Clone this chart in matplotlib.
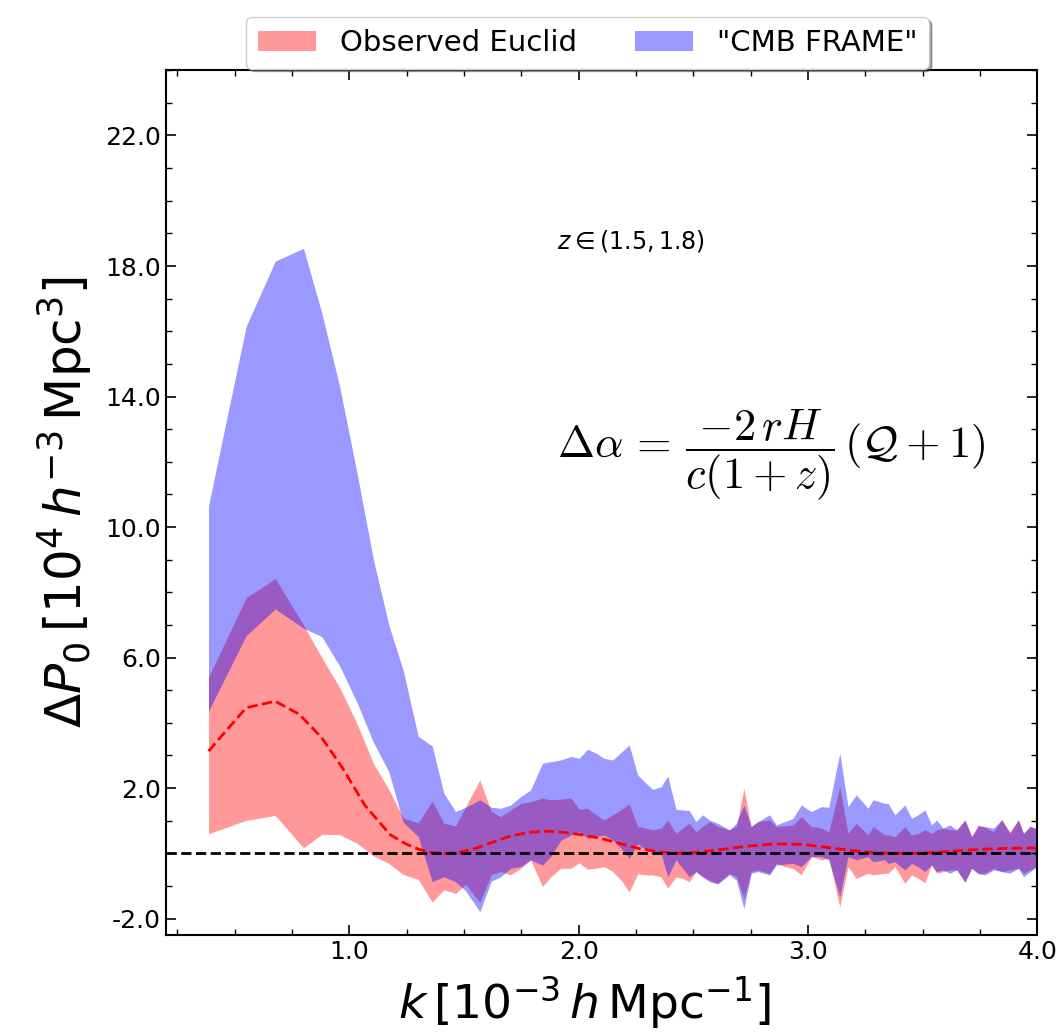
import matplotlib.pyplot as plt
from matplotlib.ticker import MultipleLocator, FormatStrFormatter

# wavenumber bins [1e-3 h/Mpc]
k = [0.386, 0.550, 0.677, 0.800, 0.880, 0.958, 1.035, 1.105, 1.172, 1.235, 1.300, 1.361,
     1.412, 1.463, 1.507, 1.569, 1.619, 1.660, 1.703, 1.747, 1.790, 1.842, 1.878,
     1.922, 1.966, 2.002, 2.038, 2.075, 2.111, 2.148, 2.184, 2.220, 2.257, 2.293,
     2.322, 2.359, 2.388, 2.424, 2.453, 2.482, 2.511, 2.540, 2.570, 2.606,
     2.657, 2.687, 2.720, 2.752, 2.781, 2.832, 2.861, 2.898, 2.934, 2.970, 3.014,
     3.058, 3.090, 3.138, 3.174, 3.210, 3.261, 3.283, 3.334,
     3.349, 3.378, 3.422, 3.451, 3.480, 3.509, 3.538, 3.560, 3.589, 3.618, 3.648,
     3.684, 3.713, 3.742, 3.771, 3.808, 3.844, 3.880, 3.917, 3.939, 3.968, 3.997, 4.030]

# "CMB FRAME" band
cmb_hi = [10.65, 16.15, 18.15, 18.54, 16.56, 14.30, 11.60, 9.00, 7.00, 5.60, 3.59, 3.29,
          1.84, 1.28, 1.41, 1.64, 1.41, 1.38, 1.48, 1.74, 1.94, 2.76, 2.81,
          2.86, 2.97, 2.91, 3.19, 3.07, 2.91, 2.86, 3.09, 3.32, 2.40, 2.15,
          1.96, 2.04, 2.37, 1.35, 1.33, 1.31, 0.97, 1.18, 1.02, 0.92,
          0.72, 0.92, 1.48, 0.82, 0.97, 1.18, 0.87, 0.97, 1.07, 1.48, 1.28,
          1.43, 1.41, 3.07, 1.43, 1.79, 1.38, 1.64, 1.53,
          1.53, 1.18, 1.48, 1.07, 1.18, 1.33, 0.87, 1.02, 0.77, 0.87, 0.72,
          1.02, 0.51, 0.84, 0.82, 0.77, 1.02, 0.61, 1.02, 0.61, 0.82, 0.77, 0.70]
cmb_lo = [4.36, 6.67, 7.49, 6.90, 6.64, 5.74, 4.60, 3.40, 2.50, 0.95, 0.52, -0.87,
          -0.72, -0.87, -1.15, -1.79, -0.85, -0.72, -0.46, -0.41, -0.20, -0.36, -0.10,
          0.40, 0.56, 0.66, 0.46, 0.51, 0.56, 0.41, 0.15, -0.15, 0.29, 0.10,
          0.05, 0.00, -0.72, -0.20, -0.46, -0.72, -0.56, -0.72, -0.87, -0.94,
          -0.66, -0.82, -1.69, -0.61, -0.56, -0.66, -0.36, -0.33, -0.31, -0.41, -0.10,
          -0.10, -0.20, -1.33, -0.10, -0.20, -0.10, -0.26, -0.20,
          -0.31, -0.26, -0.51, -0.31, -0.41, -0.56, -0.36, -0.56, -0.51, -0.61, -0.51,
          -0.87, -0.46, -0.63, -0.66, -0.51, -0.56, -0.61, -0.46, -0.72, -0.56, -0.41, -0.45]

# Observed Euclid band
obs_hi = [5.40, 7.83, 8.42, 7.00, 6.00, 5.08, 3.95, 2.75, 1.96, 1.09, 0.93, 1.60,
          0.92, 0.84, 1.43, 2.25, 1.28, 1.12, 1.33, 1.53, 1.58, 1.69, 1.64,
          1.66, 1.69, 1.35, 1.38, 1.18, 1.02, 1.18, 1.33, 1.51, 0.82, 0.77,
          0.72, 0.77, 1.02, 0.61, 0.77, 0.92, 0.66, 0.82, 0.97, 0.82,
          0.72, 0.82, 1.99, 0.82, 0.97, 1.02, 0.82, 0.84, 0.87, 1.12, 0.82,
          0.77, 0.66, 2.04, 0.61, 0.92, 0.56, 0.82, 0.56,
          0.56, 0.51, 0.82, 0.56, 0.61, 0.72, 0.61, 0.72, 0.77, 0.72, 0.72,
          1.02, 0.51, 0.87, 0.80, 0.66, 1.04, 0.66, 1.04, 0.61, 0.84, 0.72, 0.75]
obs_lo = [0.60, 1.01, 1.16, 0.17, 0.58, 0.57, 0.30, -0.08, -0.31, -0.65, -0.80, -1.49,
          -1.12, -1.23, -0.95, -1.51, -0.65, -0.56, -0.66, -0.46, -0.20, -1.02, -0.72,
          -0.46, -0.46, -0.29, -0.49, -0.46, -0.41, -0.56, -0.82, -1.18, -0.63, -0.66,
          -0.66, -0.72, -1.07, -0.72, -0.77, -0.87, -0.56, -0.72, -0.82, -0.92,
          -0.61, -0.72, -1.38, -0.56, -0.51, -0.61, -0.31, -0.41, -0.46, -0.66, -0.10,
          -0.20, -0.15, -1.64, -0.41, -0.77, -0.61, -0.66, -0.61,
          -0.61, -0.41, -0.92, -0.66, -0.77, -0.90, -0.36, -0.61, -0.56, -0.51, -0.51,
          -0.90, -0.46, -0.61, -0.61, -0.46, -0.56, -0.51, -0.46, -0.61, -0.51, -0.41, -0.45]

# model curve (red dashed)
k_model = [0.386, 0.55, 0.677, 0.782, 0.88, 0.967, 1.069, 1.178, 1.243, 1.303, 1.361,
           1.42, 1.48, 1.55, 1.62, 1.70, 1.78, 1.86, 1.94, 2.02, 2.10, 2.18, 2.26,
           2.34, 2.42, 2.50, 2.58, 2.66, 2.74, 2.82, 2.90, 2.98, 3.06, 3.14, 3.22,
           3.30, 3.38, 3.46, 3.54, 3.62, 3.70, 3.78, 3.86, 3.94, 4.02]
p_model = [3.13, 4.46, 4.66, 4.26, 3.54, 2.65, 1.46, 0.57, 0.30, 0.12, 0.02,
           0.00, 0.03, 0.15, 0.33, 0.52, 0.64, 0.68, 0.64, 0.56, 0.45, 0.30, 0.15,
           0.05, 0.00, 0.02, 0.08, 0.15, 0.22, 0.27, 0.29, 0.27, 0.20, 0.13, 0.06,
           0.01, 0.00, 0.00, 0.02, 0.06, 0.10, 0.13, 0.15, 0.16, 0.16]

plt.rcParams['mathtext.fontset'] = 'dejavusans'

fig = plt.figure(figsize=(10.63, 10.33), dpi=100)
ax = fig.add_axes([0.156, 0.095, 0.820, 0.837])

ax.fill_between(k, obs_lo, obs_hi, color='red', alpha=0.4, lw=0, label='Observed Euclid')
ax.fill_between(k, cmb_lo, cmb_hi, color='blue', alpha=0.4, lw=0, label='"CMB FRAME"')
ax.plot(k_model, p_model, color='red', ls='--', lw=2)
ax.axhline(0, color='k', ls='--', lw=2)

ax.set_xlim(0.2, 4.0)
ax.set_ylim(-2.5, 24)
ax.xaxis.set_major_locator(MultipleLocator(1.0))
ax.xaxis.set_minor_locator(MultipleLocator(0.25))
ax.yaxis.set_major_locator(MultipleLocator(4.0, offset=2.0))
ax.yaxis.set_minor_locator(MultipleLocator(1.0))
ax.xaxis.set_major_formatter(FormatStrFormatter('%.1f'))
ax.yaxis.set_major_formatter(FormatStrFormatter('%.1f'))
ax.tick_params(which='both', direction='in', top=True, right=True, labelsize=18)
ax.tick_params(which='major', length=7, width=1.2)
ax.tick_params(which='minor', length=4, width=1)
for s in ax.spines.values():
    s.set_linewidth(1.5)

ax.set_xlabel(r'$k\,[10^{-3}\,h\,\mathrm{Mpc}^{-1}]$', fontsize=34)
ax.xaxis.set_label_coords(0.48, -0.045)
ax.set_ylabel(r'$\Delta P_0\,[10^4\,h^{-3}\,\mathrm{Mpc}^3]$', fontsize=36, labelpad=8)

ax.text(0.449, 0.803, r'$z\in(1.5,1.8)$', transform=ax.transAxes, fontsize=17,
        ha='left', va='center')
ax.text(0.449, 0.555, r'$\Delta\alpha \,=\, \dfrac{-2\,rH}{c(1+z)}\,(\mathcal{Q}+1)$',
        transform=ax.transAxes, fontsize=32, ha='left', va='center', math_fontfamily='cm')

ax.legend(loc='upper center', bbox_to_anchor=(0.484, 1.078), ncol=2, fontsize=21,
          shadow=True, frameon=True, handlelength=2.0, handletextpad=0.8,
          columnspacing=2.0)

fig.savefig('out.png', dpi=100)
